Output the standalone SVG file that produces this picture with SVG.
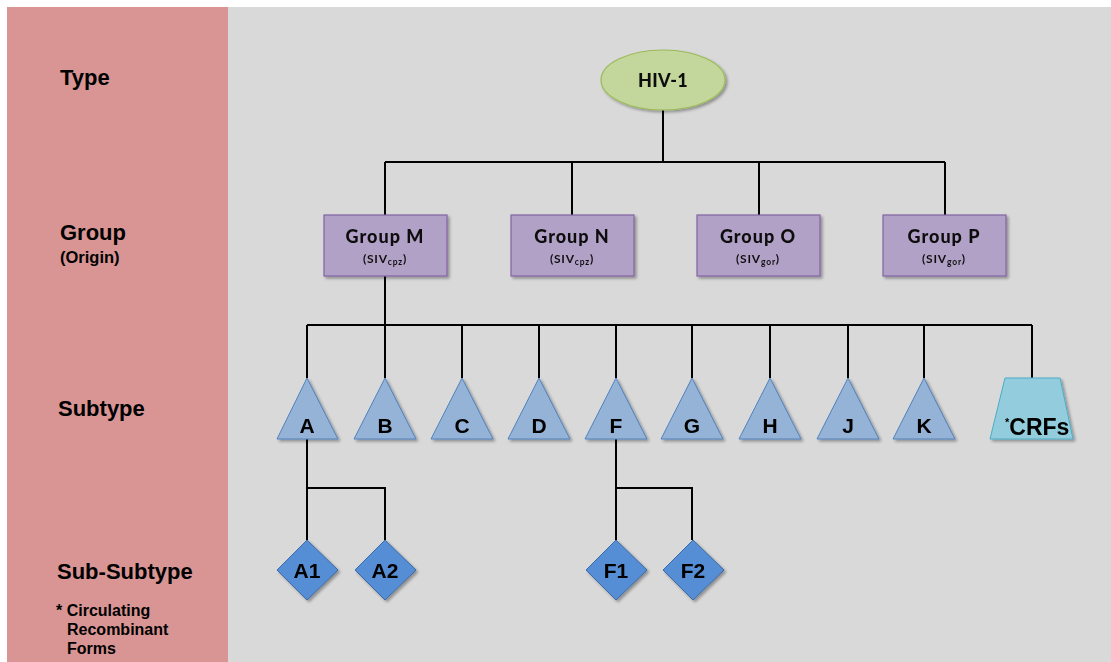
<svg xmlns="http://www.w3.org/2000/svg" width="1111" height="662" viewBox="0 0 1111 662">
<defs>
<filter id="sh" x="-20%" y="-20%" width="150%" height="150%">
<feGaussianBlur in="SourceAlpha" stdDeviation="1.5"/>
<feOffset dx="2" dy="2" result="b"/>
<feComponentTransfer><feFuncA type="linear" slope="0.35"/></feComponentTransfer>
<feMerge><feMergeNode/><feMergeNode in="SourceGraphic"/></feMerge>
</filter>
</defs>
<style>
.lbl{font-family:"Liberation Sans",Arial,sans-serif;font-weight:bold;fill:#000}
.grp{fill:#B2A1C7;stroke:#8064A2;stroke-width:1.2}
.gt{font-family:Lato,"Open Sans",sans-serif;font-weight:900;font-size:18px;letter-spacing:1px;fill:#111;text-anchor:middle}
.gs{font-family:Lato,"Open Sans",sans-serif;font-weight:bold;font-size:12px;letter-spacing:0.8px;fill:#111;text-anchor:middle}
.tri{fill:#95B3D7;stroke:#4F81BD;stroke-width:1}
.dia{fill:#558ED5;stroke:#3A6AA8;stroke-width:1}
.nt{font-family:"Liberation Sans",Arial,sans-serif;font-weight:bold;font-size:21px;fill:#000;text-anchor:middle}
.conn{stroke:#000;stroke-width:2;fill:none}
</style>
<rect x="0" y="0" width="1111" height="662" fill="#fff"/>
<rect x="7" y="7" width="221" height="655" fill="#D99594"/>
<rect x="228" y="7" width="883" height="655" fill="#D9D9D9"/>
<g id="left-labels">
<text class="lbl" x="60" y="85" font-size="22">Type</text>
<text class="lbl" x="60" y="240" font-size="22">Group</text>
<text class="lbl" x="60" y="263" font-size="16.5">(Origin)</text>
<text class="lbl" x="58" y="416" font-size="22">Subtype</text>
<text class="lbl" x="57" y="579" font-size="22">Sub-Subtype</text>
<text class="lbl" x="56" y="616" font-size="16">* Circulating</text>
<text class="lbl" x="67" y="635" font-size="16">Recombinant</text>
<text class="lbl" x="67" y="654" font-size="16">Forms</text>
</g>
<g id="connectors" class="conn">
<path d="M663 110V162M385 162H945M385 162V215M572 162V215M759 162V215M945 162V215"/>
<path d="M385 276V325M307 325H1032M307 325V378M385 325V378M462 325V378M539 325V378M616 325V378M692 325V378M770 325V378M848 325V378M924 325V378M1032 325V378"/>
<path d="M307 439V540M307 488H385V540"/>
<path d="M616 439V540M616 488H692V540"/>
</g>
<g id="hiv1" filter="url(#sh)">
<ellipse cx="663" cy="80" rx="62" ry="30" fill="#C3D69B" stroke="#9BBB59" stroke-width="1.2"/>
<text class="gt" x="663" y="87" style="letter-spacing:0.3px">HIV-1</text>
</g>
<g id="groupM" filter="url(#sh)">
<rect class="grp" x="324" y="215" width="123" height="61"/>
<text class="gt" x="385" y="243">Group M</text>
<text class="gs" x="385" y="263">(SIV<tspan font-size="8.5" dy="2">cpz</tspan><tspan dy="-2">)</tspan></text>
</g>
<g id="groupN" filter="url(#sh)">
<rect class="grp" x="511" y="215" width="123" height="61"/>
<text class="gt" x="572" y="243">Group N</text>
<text class="gs" x="572" y="263">(SIV<tspan font-size="8.5" dy="2">cpz</tspan><tspan dy="-2">)</tspan></text>
</g>
<g id="groupO" filter="url(#sh)">
<rect class="grp" x="697" y="215" width="123" height="61"/>
<text class="gt" x="758" y="243">Group O</text>
<text class="gs" x="758" y="263">(SIV<tspan font-size="8.5" dy="2">gor</tspan><tspan dy="-2">)</tspan></text>
</g>
<g id="groupP" filter="url(#sh)">
<rect class="grp" x="883" y="215" width="123" height="61"/>
<text class="gt" x="944" y="243">Group P</text>
<text class="gs" x="944" y="263">(SIV<tspan font-size="8.5" dy="2">gor</tspan><tspan dy="-2">)</tspan></text>
</g>
<g id="subA" filter="url(#sh)"><path class="tri" d="M307 378L338 439H277Z"/><text class="nt" x="307" y="433">A</text></g>
<g id="subB" filter="url(#sh)"><path class="tri" d="M385 378L416 439H354Z"/><text class="nt" x="385" y="433">B</text></g>
<g id="subC" filter="url(#sh)"><path class="tri" d="M462 378L493 439H431Z"/><text class="nt" x="462" y="433">C</text></g>
<g id="subD" filter="url(#sh)"><path class="tri" d="M539 378L570 439H508Z"/><text class="nt" x="539" y="433">D</text></g>
<g id="subF" filter="url(#sh)"><path class="tri" d="M616 378L647 439H585Z"/><text class="nt" x="616" y="433">F</text></g>
<g id="subG" filter="url(#sh)"><path class="tri" d="M692 378L723 439H661Z"/><text class="nt" x="692" y="433">G</text></g>
<g id="subH" filter="url(#sh)"><path class="tri" d="M770 378L801 439H739Z"/><text class="nt" x="770" y="433">H</text></g>
<g id="subJ" filter="url(#sh)"><path class="tri" d="M848 378L879 439H817Z"/><text class="nt" x="848" y="433">J</text></g>
<g id="subK" filter="url(#sh)"><path class="tri" d="M924 378L955 439H893Z"/><text class="nt" x="924" y="433">K</text></g>
<g id="crfs" filter="url(#sh)">
<path d="M1005 378H1060L1073 439H990Z" fill="#93CDDD" stroke="#4BACC6" stroke-width="1"/>
<text class="nt" x="1005" y="435" font-size="23" style="text-anchor:start;font-size:23px"><tspan font-size="11" style="font-size:11px" dy="-9">*</tspan><tspan dy="9">CRFs</tspan></text>
</g>
<g id="subA1" filter="url(#sh)"><path class="dia" d="M307 540L338 570L307 600L277 570Z"/><text class="nt" x="307" y="578">A1</text></g>
<g id="subA2" filter="url(#sh)"><path class="dia" d="M385 540L416 570L385 600L355 570Z"/><text class="nt" x="385" y="578">A2</text></g>
<g id="subF1" filter="url(#sh)"><path class="dia" d="M616 540L647 570L616 600L586 570Z"/><text class="nt" x="616" y="578">F1</text></g>
<g id="subF2" filter="url(#sh)"><path class="dia" d="M693 540L724 570L693 600L663 570Z"/><text class="nt" x="693" y="578">F2</text></g>
</svg>
